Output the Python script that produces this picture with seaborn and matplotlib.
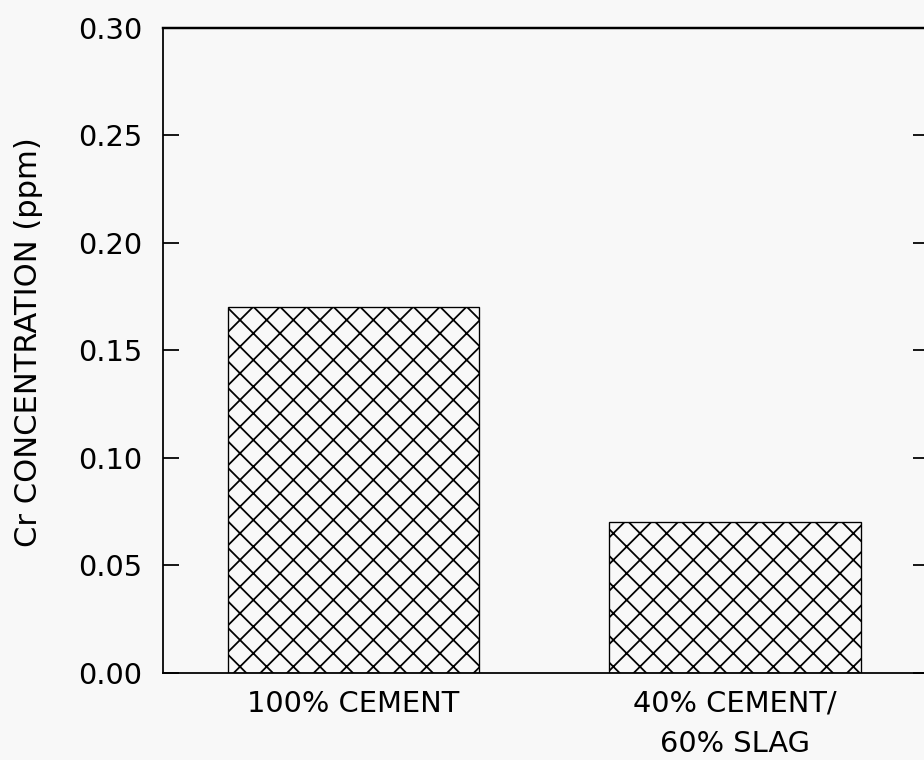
import pandas as pd
import matplotlib
matplotlib.use("Agg")
import matplotlib.pyplot as plt
import seaborn as sns

# dados
misturas = ["100% CEMENT", "40% CEMENT/\n60% SLAG"]
cr_ppm = [0.17, 0.07]
yticks = [0.00, 0.05, 0.10, 0.15, 0.20, 0.25, 0.30]

df = pd.DataFrame({"mistura": misturas, "cr": cr_ppm})

sns.set_theme(style="ticks")
plt.rcParams["font.family"] = ["DejaVu Sans"]
plt.rcParams["hatch.linewidth"] = 0.8
plt.rcParams["text.color"] = "black"
plt.rcParams["axes.labelcolor"] = "black"
plt.rcParams["xtick.color"] = "black"
plt.rcParams["ytick.color"] = "black"

fundo = "#f8f8f8"
DPI = 160
fig = plt.figure(figsize=(924 / DPI, 760 / DPI), dpi=DPI, facecolor=fundo)
ax = fig.add_axes([0.1764, 0.1145, 0.8252, 0.8487], facecolor=fundo)

sns.barplot(data=df, x="mistura", y="cr", ax=ax, width=0.66,
            color=fundo, edgecolor="black", linewidth=0.6, saturation=1)
for p in ax.patches:
    p.set_hatch("xx")
    p.set_facecolor(fundo)
    p.set_edgecolor("black")

ax.set_xlim(-0.5, 1.5)
ax.set_ylim(0, 0.30)
ax.set_yticks(yticks)
ax.set_yticklabels([f"{v:.2f}" for v in yticks])

ax.set_xlabel("")
ax.set_ylabel("Cr CONCENTRATION (ppm)", fontsize=13.8)
ax.yaxis.set_label_coords(-0.157, 0.513)

ax.tick_params(axis="y", direction="in", length=7.2, width=0.8,
               right=True, labelsize=13, pad=9.5)
ax.tick_params(axis="x", length=0, labelsize=13, pad=7.5)
for lab in ax.get_xticklabels():
    lab.set_linespacing(1.55)
for t in ax.yaxis.get_major_ticks():
    t.tick2line.set_markersize(5.5)

for s in ["left", "bottom", "right"]:
    ax.spines[s].set_linewidth(0.8)
ax.spines["top"].set_linewidth(1.1)
for s in ax.spines.values():
    s.set_color("black")

fig.savefig("out.png", dpi=DPI, facecolor=fundo)
